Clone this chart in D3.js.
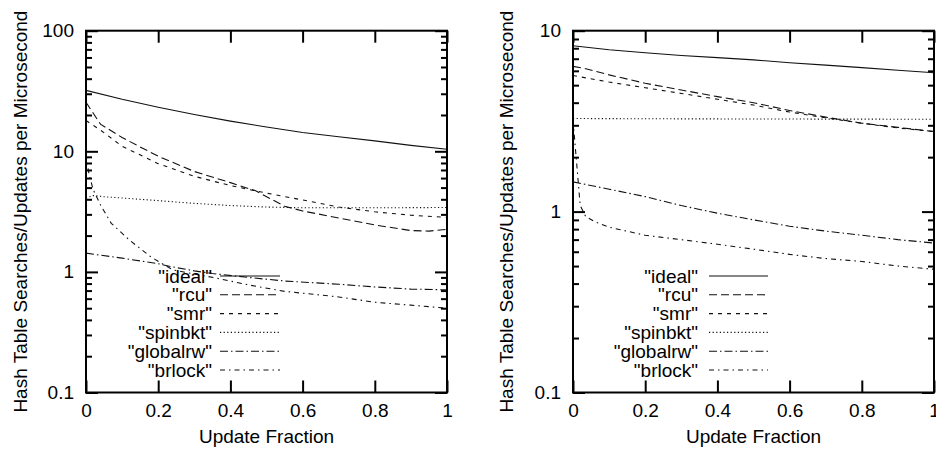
<!DOCTYPE html>
<html>
<head>
<meta charset="utf-8">
<script src="https://cdn.jsdelivr.net/npm/d3@7"></script>
<style>
  html, body { margin: 0; padding: 0; background: #fff; }
  svg { display: block; }
  text { font-family: "Liberation Sans", Arial, Helvetica, sans-serif; fill: #000; }
</style>
</head>
<body>
<svg id="chart" width="936" height="450"></svg>
<script>
// Update fraction ticks and series labels
const xTicks = [0, 0.2, 0.4, 0.6, 0.8, 1];
const seriesNames = ["ideal", "rcu", "smr", "spinbkt", "globalrw", "brlock"];
const yTicksLeft = [0.1, 1, 10, 100];
const yTicksRight = [0.1, 1, 10];

// Left panel: [update fraction, searches/updates per microsecond]
const leftIdeal = [[0, 32], [0.1, 27], [0.2, 23.2], [0.3, 20.2], [0.4, 17.8], [0.5, 15.9],
  [0.6, 14.3], [0.7, 13.2], [0.8, 12.2], [0.9, 11.2], [1, 10.4]];
const leftRcu = [[0, 25.5], [0.04, 16.8], [0.1, 13], [0.2, 9.1], [0.3, 6.8], [0.4, 5.5],
  [0.47, 4.7], [0.55, 3.5], [0.6, 3.2], [0.7, 2.8], [0.8, 2.45], [0.9, 2.2], [0.95, 2.18], [1, 2.25]];
const leftSmr = [[0, 18], [0.04, 15], [0.1, 11], [0.2, 7.9], [0.3, 6.2], [0.4, 5.2],
  [0.5, 4.5], [0.6, 3.95], [0.7, 3.45], [0.8, 3.15], [0.9, 2.95], [1, 2.83]];
const leftSpinbkt = [[0, 4.1], [0.02, 4.3], [0.05, 4.2], [0.1, 4.1], [0.2, 3.9], [0.3, 3.7],
  [0.4, 3.55], [0.5, 3.45], [0.6, 3.4], [0.8, 3.4], [1, 3.42]];
const leftGlobalrw = [[0, 1.43], [0.1, 1.3], [0.2, 1.17], [0.24, 1.1], [0.3, 1.02], [0.35, 0.97],
  [0.45, 0.9], [0.55, 0.84], [0.7, 0.79], [0.8, 0.75], [0.9, 0.72], [1, 0.71]];
const leftBrlock = [[0, 9.5], [0.008, 6.5], [0.02, 4.8], [0.04, 3.6], [0.07, 2.53], [0.12, 1.84],
  [0.18, 1.33], [0.24, 1.04], [0.3, 0.96], [0.36, 0.89], [0.45, 0.78], [0.55, 0.69],
  [0.7, 0.62], [0.8, 0.56], [0.9, 0.53], [1, 0.5]];

// Right panel
const rightIdeal = [[0, 8.25], [0.1, 7.85], [0.2, 7.55], [0.3, 7.3], [0.4, 7.1], [0.5, 6.9],
  [0.6, 6.65], [0.7, 6.45], [0.8, 6.25], [0.9, 6.05], [1, 5.86]];
const rightRcu = [[0, 6.35], [0.03, 6.2], [0.1, 5.7], [0.2, 5.12], [0.3, 4.7], [0.4, 4.32],
  [0.5, 4.0], [0.6, 3.62], [0.7, 3.33], [0.8, 3.08], [0.9, 2.92], [1, 2.77]];
const rightSmr = [[0, 5.65], [0.1, 5.2], [0.2, 4.84], [0.3, 4.5], [0.4, 4.18], [0.5, 3.88],
  [0.6, 3.55], [0.7, 3.3], [0.8, 3.08], [0.9, 2.9], [1, 2.77]];
const rightSpinbkt = [[0, 3.27], [0.2, 3.26], [0.5, 3.25], [1, 3.24]];
const rightGlobalrw = [[0, 1.46], [0.1, 1.33], [0.2, 1.21], [0.3, 1.08], [0.4, 0.98], [0.5, 0.9],
  [0.6, 0.83], [0.7, 0.78], [0.8, 0.74], [0.9, 0.7], [1, 0.67]];
const rightBrlock = [[0, 3.2], [0.02, 1.08], [0.035, 0.94], [0.06, 0.88], [0.1, 0.82], [0.2, 0.74],
  [0.3, 0.7], [0.4, 0.66], [0.5, 0.62], [0.6, 0.58], [0.7, 0.55], [0.8, 0.53], [0.9, 0.5], [1, 0.48]];

// Line dash style per series (gnuplot-like)
const dashes = {
  ideal: null,
  rcu: "8,4",
  smr: "4,5",
  spinbkt: "1.2,2.4",
  globalrw: "8,3,1.5,3",
  brlock: "5,4,1.5,4"
};

const svg = d3.select("#chart");
const FONT = 19;
const plotTop = 30.7, plotBottom = 392.5;

function minorTicks(lo, hi) {
  const out = [];
  for (let d = lo; d < hi; d *= 10) for (let m = 2; m <= 9; m++) out.push(d * m);
  return out;
}

function panel(opts) {
  const x = d3.scaleLinear().domain([0, 1]).range([opts.left, opts.right]);
  const y = d3.scaleLog().domain(opts.yDomain).range([plotBottom, plotTop]);
  const g = svg.append("g");

  const styleAxis = sel => {
    sel.select(".domain").remove();
    sel.selectAll(".tick line").attr("stroke", "#000").attr("stroke-width", 2);
    sel.selectAll(".tick text").attr("font-size", FONT).attr("font-family", null);
  };

  // y axis: labelled majors and minor ticks, mirrored on the right
  g.append("g").attr("transform", `translate(${opts.left},0)`)
    .call(d3.axisLeft(y).tickValues(opts.yTicks).tickSize(-12).tickPadding(12)
      .tickFormat(d3.format("~g")))
    .call(styleAxis);
  g.append("g").attr("transform", `translate(${opts.left},0)`)
    .call(d3.axisLeft(y).tickValues(minorTicks(opts.yDomain[0], opts.yDomain[1])).tickSize(-6).tickFormat(""))
    .call(styleAxis);
  g.append("g").attr("transform", `translate(${opts.right},0)`)
    .call(d3.axisRight(y).tickValues(opts.yTicks).tickSize(-12).tickFormat(""))
    .call(styleAxis);
  g.append("g").attr("transform", `translate(${opts.right},0)`)
    .call(d3.axisRight(y).tickValues(minorTicks(opts.yDomain[0], opts.yDomain[1])).tickSize(-6).tickFormat(""))
    .call(styleAxis);

  // x axis, mirrored on top
  g.append("g").attr("transform", `translate(0,${plotBottom})`)
    .call(d3.axisBottom(x).tickValues(xTicks).tickSize(-12).tickPadding(11)
      .tickFormat(d3.format("~g")))
    .call(styleAxis);
  g.append("g").attr("transform", `translate(0,${plotTop})`)
    .call(d3.axisTop(x).tickValues(xTicks).tickSize(-12).tickFormat(""))
    .call(styleAxis);

  // curves
  const line = d3.line().x(d => x(d[0])).y(d => y(d[1]));
  const clipId = "clip" + opts.id;
  g.append("clipPath").attr("id", clipId).append("rect")
    .attr("x", opts.left).attr("y", plotTop)
    .attr("width", opts.right - opts.left).attr("height", plotBottom - plotTop);
  const curves = g.append("g").attr("clip-path", `url(#${clipId})`);
  opts.series.forEach((data, i) => {
    curves.append("path").datum(data)
      .attr("d", line)
      .attr("fill", "none")
      .attr("stroke", "#111")
      .attr("stroke-width", 1.1)
      .attr("stroke-dasharray", dashes[seriesNames[i]]);
  });

  // legend
  const rowY = d3.scaleLinear().domain([0, 5]).range([276, 370]);
  const leg = g.append("g");
  seriesNames.forEach((name, i) => {
    leg.append("text")
      .attr("x", opts.legendText).attr("y", rowY(i)).attr("dy", "0.35em")
      .attr("text-anchor", "end").attr("font-size", FONT)
      .text(`"${name}"`);
    leg.append("line")
      .attr("x1", opts.legendLine[0]).attr("x2", opts.legendLine[1])
      .attr("y1", rowY(i)).attr("y2", rowY(i))
      .attr("stroke", "#111").attr("stroke-width", 1.1)
      .attr("stroke-dasharray", dashes[name]);
  });

  // frame
  g.append("rect")
    .attr("x", opts.left).attr("y", plotTop)
    .attr("width", opts.right - opts.left).attr("height", plotBottom - plotTop)
    .attr("fill", "none").attr("stroke", "#000").attr("stroke-width", 2);

  // axis titles
  g.append("text")
    .attr("x", (opts.left + opts.right) / 2).attr("y", 443)
    .attr("text-anchor", "middle").attr("font-size", FONT)
    .text("Update Fraction");
  g.append("text")
    .attr("transform", `translate(${opts.yTitleX},${(plotTop + plotBottom) / 2}) rotate(-90)`)
    .attr("text-anchor", "middle").attr("dy", "0.35em").attr("font-size", FONT)
    .text("Hash Table Searches/Updates per Microsecond");
}

panel({
  id: "L", left: 86, right: 447, yDomain: [0.1, 100], yTicks: yTicksLeft,
  series: [leftIdeal, leftRcu, leftSmr, leftSpinbkt, leftGlobalrw, leftBrlock],
  legendText: 212, legendLine: [220, 280], yTitleX: 20
});
panel({
  id: "R", left: 573, right: 934, yDomain: [0.1, 10], yTicks: yTicksRight,
  series: [rightIdeal, rightRcu, rightSmr, rightSpinbkt, rightGlobalrw, rightBrlock],
  legendText: 698, legendLine: [709, 768], yTitleX: 506.5
});
</script>
</body>
</html>
